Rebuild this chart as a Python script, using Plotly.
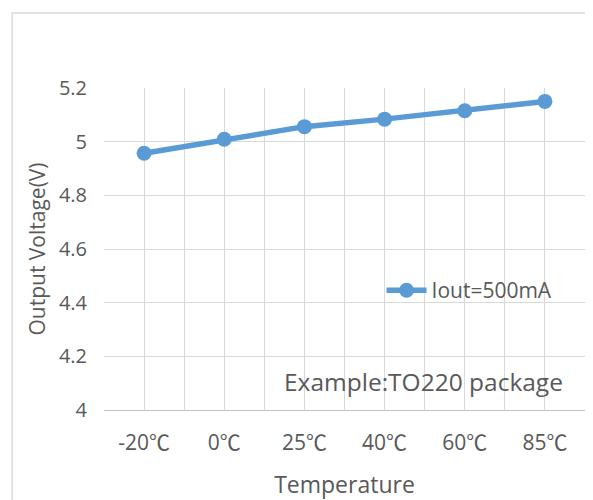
import plotly.graph_objects as go

categories = ["-20℃", "0℃", "25℃", "40℃", "60℃", "85℃"]
voltage = [4.957, 5.009, 5.056, 5.084, 5.115, 5.150]
series_name = "Iout=500mA"
y_ticks = [4.0, 4.2, 4.4, 4.6, 4.8, 5.0, 5.2]

x_idx = list(range(len(categories)))
FONT = "Open Sans"
TXT = "#595959"
BLUE = "#5B9BD5"
GRID = "#D9D9D9"

def fmt_cat(c):
    return c.replace("℃", "<span style='font-family:\"Noto Sans CJK SC\"'>℃</span>")

fig = go.Figure()
fig.add_trace(go.Scatter(
    x=x_idx, y=voltage, mode="lines+markers", name=series_name,
    line=dict(color=BLUE, width=5.5),
    marker=dict(color=BLUE, size=15),
))

fig.update_layout(
    width=585, height=492,
    margin=dict(l=96, r=8, t=80, b=90, autoexpand=False),
    paper_bgcolor="white", plot_bgcolor="white",
    font=dict(family=FONT, color=TXT, size=20),
    showlegend=True,
    legend=dict(x=0.577, y=0.371, xanchor="left", yanchor="middle",
                bgcolor="rgba(0,0,0,0)", font=dict(size=21, color=TXT),
                itemwidth=40),
    xaxis=dict(
        range=[-0.5, len(categories) - 0.5],
        tickvals=x_idx, ticktext=[fmt_cat(c) for c in categories],
        showgrid=True, gridcolor=GRID, gridwidth=1,
        minor=dict(tickvals=[i - 0.5 for i in range(len(categories) + 1)],
                   showgrid=True, gridcolor=GRID, gridwidth=1),
        showline=True, linecolor="#BFBFBF", linewidth=1,
        zeroline=False, ticks="", ticklabelstandoff=14,
        tickfont=dict(size=21, color=TXT),
        title=dict(text="Temperature", font=dict(size=23, color=TXT), standoff=22),
        fixedrange=True,
    ),
    yaxis=dict(
        range=[4.0, 5.2], tickvals=y_ticks,
        ticktext=[("%g" % v) for v in y_ticks],
        showgrid=True, gridcolor=GRID, gridwidth=1,
        zeroline=False, showline=False, ticks="", ticklabelstandoff=16,
        tickfont=dict(size=20, color=TXT),
        title=dict(text="Output Voltage(V)", font=dict(size=21, color=TXT), standoff=7),
        fixedrange=True,
    ),
    annotations=[dict(
        text="Example:TO220 package", xref="paper", yref="paper",
        x=0.664, y=0.087, xanchor="center", yanchor="middle", showarrow=False,
        font=dict(size=24.5, color=TXT),
    )],
    shapes=[dict(
        type="rect", xref="paper", yref="paper",
        x0=-0.191, x1=1.0125, y0=-0.35, y1=1.233,
        line=dict(color="#D9D9D9", width=1.5), fillcolor="rgba(0,0,0,0)", layer="below",
    )],
)

fig.write_html("out.html")
